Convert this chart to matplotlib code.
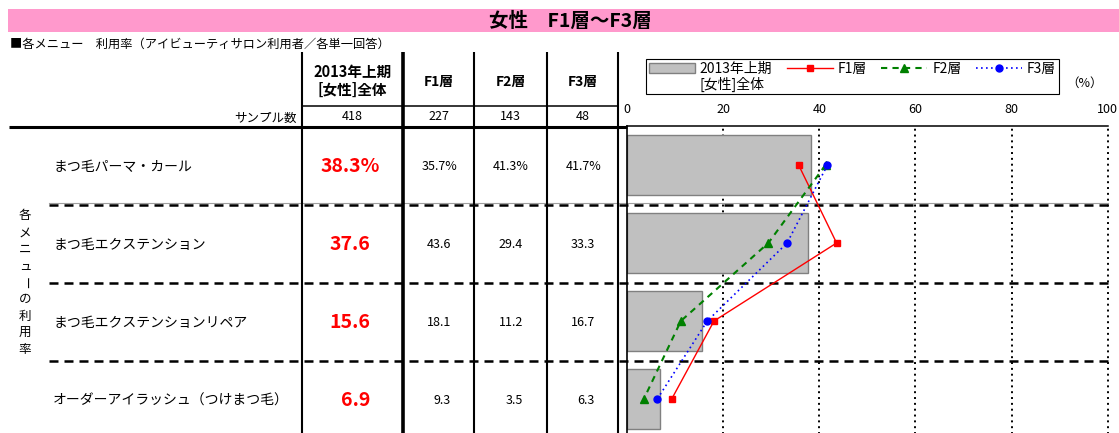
import matplotlib
matplotlib.use('Agg')
import matplotlib.pyplot as plt
from matplotlib.patches import Patch, Rectangle
from matplotlib.lines import Line2D

plt.rcParams['font.family'] = ['Noto Sans CJK JP', 'DejaVu Sans']

# ---------------- data ----------------
title = "女性　F1層～F3層"
subtitle = "■各メニュー　利用率（アイビューティサロン利用者／各単一回答）"
categories = ["まつ毛パーマ・カール", "まつ毛エクステンション",
              "まつ毛エクステンションリペア", "オーダーアイラッシュ（つけまつ毛）"]
col_headers = ["2013年上期\n[女性]全体", "F1層", "F2層", "F3層"]
sample_label = "サンプル数"
sample_sizes = [418, 227, 143, 48]
overall = [38.3, 37.6, 15.6, 6.9]
f1 = [35.7, 43.6, 18.1, 9.3]
f2 = [41.3, 29.4, 11.2, 3.5]
f3 = [41.7, 33.3, 16.7, 6.3]
xticks = [0, 20, 40, 60, 80, 100]
side_label = "各メニューの利用率"
unit_label = "（%）"

# ---------------- layout (pixels) ----------------
W, H = 1119, 433
fig = plt.figure(figsize=(W / 100, H / 100), dpi=100)

ov = fig.add_axes([0, 0, 1, 1], zorder=0)
ov.set_xlim(0, W)
ov.set_ylim(H, 0)
ov.axis('off')

# title band
ov.add_patch(Rectangle((8, 9), W - 8, 23, facecolor='#FF99CC', lw=0))
ov.text(570, 21, title, ha='center', va='center', fontsize=14, fontweight='bold')
ov.text(10, 44, subtitle, ha='left', va='center', fontsize=8.8)

col_edges = [302, 403, 474, 547, 618]
col_lws = [1.5, 2.6, 1.5, 1.5, 1.5]
col_centers = [(col_edges[i] + col_edges[i + 1]) / 2 for i in range(4)]
body_top = 126
row_h = 78
chart_left, chart_right = 627, 1107.7
n = len(categories)
row_centers = [body_top + row_h * (i + 0.5) for i in range(n)]

# separators
ov.plot([49, chart_right], [body_top + row_h - 1.5] * 2, color='#A0A0A0', lw=0.8)
for k in range(1, n):
    yk = body_top + row_h * k + 0.5
    ov.plot([49, chart_right], [yk, yk], color='k', lw=1.8, ls=(0, (3.6, 2.4)))

# table lines
for x, lw in zip(col_edges, col_lws):
    ov.plot([x, x], [52, H], color='k', lw=lw, solid_capstyle='butt')
ov.plot([col_edges[0], col_edges[-1]], [106, 106], color='k', lw=1.1)
ov.plot([9, chart_left], [127, 127], color='k', lw=2.2, solid_capstyle='butt')

# headers
h0a, h0b = col_headers[0].split("\n")
ov.text(col_centers[0], 72, h0a, ha='center', va='center', fontsize=10.5, fontweight='bold')
ov.text(col_centers[0], 90, h0b, ha='center', va='center', fontsize=10.5, fontweight='bold')
for j in range(1, 4):
    ov.text(col_centers[j], 82, col_headers[j], ha='center', va='center',
            fontsize=10, fontweight='bold')

ov.text(297, 118, sample_label, ha='right', va='center', fontsize=9)
for j, s in enumerate(sample_sizes):
    ov.text(col_centers[j], 117, str(s), ha='center', va='center', fontsize=9)

# row labels and values
for i, cat in enumerate(categories):
    yc = row_centers[i] + 2
    ov.text(53, yc, cat, ha='left', va='center', fontsize=10)
    xr = col_centers[0] + 18
    txt = f"{overall[i]:.1f}" + ("%" if i == 0 else "")
    ov.text(xr + (9 if i == 0 else 0), yc, txt, ha='right', va='center', fontsize=14,
            fontweight='bold', color='#FF0000')
    for j, ser in enumerate([f1, f2, f3], start=1):
        xr = col_centers[j] + 12.5
        txt = f"{ser[i]:.1f}" + ("%" if i == 0 else "")
        ov.text(xr + (6 if i == 0 else 0), yc, txt, ha='right', va='center', fontsize=9)

# vertical side label
for k, ch in enumerate(side_label):
    ov.text(25, 216 + 16.75 * k, ch, ha='center', va='center', fontsize=9,
            rotation=(-90 if ch == 'ー' else 0))

ov.text(1085, 83, unit_label, ha='center', va='center', fontsize=9)

# ---------------- chart ----------------
bottom_px = body_top + row_h * n
ax = fig.add_axes([chart_left / W, (H - bottom_px) / H,
                   (chart_right - chart_left) / W, (bottom_px - body_top) / H], zorder=2)
ax.set_facecolor('none')
ax.set_xlim(0, 100)
ax.set_ylim(n - 0.5, -0.5)
ypos = list(range(n))

for t in xticks[1:]:
    ax.axvline(t, color='k', lw=1.4, ls=(0, (1.0, 2.0)), zorder=1, clip_on=False)

ax.barh(ypos, overall, height=0.77, color='#C0C0C0', edgecolor='#808080', lw=1, zorder=2)
ax.plot(f1, ypos, color='#FF0000', lw=1, marker='s', ms=5, zorder=3)
ax.plot(f2, ypos, color='#008000', lw=1.5, ls=(0, (3, 2.5)), marker='^', ms=6, zorder=3)
ax.plot(f3, ypos, color='#0000FF', lw=1.2, ls=(0, (1, 2)), marker='o', ms=5, zorder=3)

for s in ['right', 'bottom']:
    ax.spines[s].set_visible(False)
ax.spines['left'].set_linewidth(1.2)
ax.spines['top'].set_linewidth(1.1)
ax.xaxis.tick_top()
ax.set_xticks(xticks)
ax.tick_params(axis='x', length=0, pad=7, labelsize=9)
ax.set_yticks([])

leg_a, leg_b = col_headers[0].split("\n")
handles = [Patch(facecolor='#C0C0C0', edgecolor='#808080', lw=1),
           Patch(facecolor='none', edgecolor='none'),
           Line2D([], [], color='#FF0000', lw=1, marker='s', ms=5),
           Line2D([], [], color='#008000', lw=1.5, ls=(0, (3, 2.5)), marker='^', ms=6),
           Line2D([], [], color='#0000FF', lw=1.2, ls=(0, (1, 2)), marker='o', ms=5)]
labels = [leg_a, leg_b, col_headers[1], col_headers[2], col_headers[3]]
leg = ax.legend(handles=handles, labels=labels, ncol=4, loc='upper left',
                bbox_to_anchor=(646 / W, 1 - 59 / H), bbox_transform=fig.transFigure,
                borderaxespad=0, fontsize=10, handlelength=3.3, handletextpad=0.36,
                columnspacing=1.05, labelspacing=0.05, borderpad=0.2,
                frameon=True, fancybox=False, edgecolor='k', framealpha=1)
leg.get_frame().set_linewidth(0.8)

fig.savefig('out.png', dpi=100)
